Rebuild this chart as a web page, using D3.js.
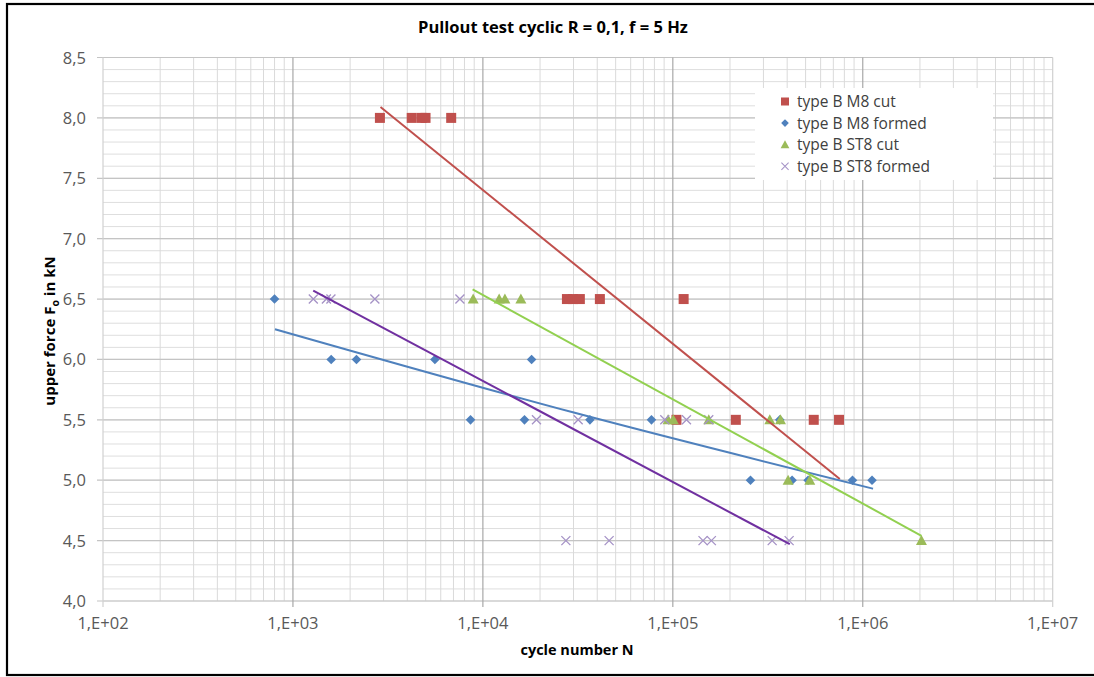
<!DOCTYPE html>
<html>
<head>
<meta charset="utf-8">
<script src="https://cdn.jsdelivr.net/npm/d3@7"></script>
<style>
  body { margin: 0; background: #fff; overflow: hidden; }
  svg  { display: block; font-family: "Open Sans", sans-serif; }
</style>
</head>
<body>
<div id="chart"></div>
<script>
// Data (cycle number N, upper force in kN)
var m8_cut_N      = [2870, 4220, 4760, 4990, 6810, 27700, 29800, 32400, 41300, 114000, 104500, 214600, 552000, 750000]
var m8_cut_F      = [8.0, 8.0, 8.0, 8.0, 8.0, 6.5, 6.5, 6.5, 6.5, 6.5, 5.5, 5.5, 5.5, 5.5]
var m8_formed_N   = [800, 1590, 2160, 5590, 18050, 8610, 16560, 36600, 77200, 365700, 256400, 424600, 515500, 883000, 1119000]
var m8_formed_F   = [6.5, 6.0, 6.0, 6.0, 6.0, 5.5, 5.5, 5.5, 5.5, 5.5, 5.0, 5.0, 5.0, 5.0, 5.0]
var st8_cut_N     = [8890, 12180, 13060, 15850, 94400, 100600, 154600, 324000, 368800, 404600, 526000, 2037000]
var st8_cut_F     = [6.5, 6.5, 6.5, 6.5, 5.5, 5.5, 5.5, 5.5, 5.5, 5.0, 5.0, 4.5]
var st8_formed_N  = [1280, 1500, 1585, 2700, 7570, 19150, 31750, 90700, 118000, 154600, 27350, 46200, 144200, 159600, 333500, 409600]
var st8_formed_F  = [6.5, 6.5, 6.5, 6.5, 6.5, 5.5, 5.5, 5.5, 5.5, 5.5, 4.5, 4.5, 4.5, 4.5, 4.5, 4.5]

// Trendlines, points
var trend_m8_cut_N     = [2890, 757000]
var trend_m8_cut_F     = [8.09, 5.01]
var trend_m8_formed_N  = [804, 30100, 1133000]
var trend_m8_formed_F  = [6.25, 5.56, 4.93]
var trend_st8_cut_N    = [8830, 2037000]
var trend_st8_cut_F    = [6.58, 4.54]
var trend_st8_formed_N = [1279, 413000]
var trend_st8_formed_F = [6.57, 4.47]

var series_names = ['type B M8 cut', 'type B M8 formed', 'type B ST8 cut', 'type B ST8 formed']
var x_ticks = [1e2, 1e3, 1e4, 1e5, 1e6, 1e7]
var y_ticks = [4.0, 4.5, 5.0, 5.5, 6.0, 6.5, 7.0, 7.5, 8.0, 8.5]

// Size
var width  = 1094
var height = 677

var svg = d3.select('#chart').append('svg')
    .attr('width',  width)
    .attr('height', height)

// Frame (right side runs off the picture)
svg.append('rect')
    .attr('x', 7).attr('y', 4)
    .attr('width', 1100).attr('height', 671)
    .attr('fill', 'none')
    .attr('stroke', '#000')
    .attr('stroke-width', 2.2)

// Scales
var x = d3.scaleLog().domain([1e2, 1e7]).range([103, 1052.7])
var y = d3.scaleLinear().domain([4, 8.5]).range([601, 57.5])

var grid = svg.append('g')

// Minor grid
var y_minor = d3.range(40, 86, 1).map(d => d / 10)
grid.selectAll('.hmin').data(y_minor).enter().append('line')
    .attr('x1', x(1e2)).attr('x2', x(1e7))
    .attr('y1', d => y(d)).attr('y2', d => y(d))
    .attr('stroke', '#dedede').attr('stroke-width', 1)

var x_minor = []
for (var e = 2; e < 7; e++) { for (var k = 2; k < 10; k++) { x_minor.push(k * Math.pow(10, e)) } }
grid.selectAll('.vmin').data(x_minor).enter().append('line')
    .attr('x1', d => x(d)).attr('x2', d => x(d))
    .attr('y1', y(4)).attr('y2', y(8.5))
    .attr('stroke', '#dadada').attr('stroke-width', 1)

// Major grid
grid.selectAll('.hmaj').data(y_ticks).enter().append('line')
    .attr('x1', x(1e2) - 6).attr('x2', x(1e7))
    .attr('y1', d => y(d)).attr('y2', d => y(d))
    .attr('stroke', '#c4c4c4').attr('stroke-width', 1.2)

grid.selectAll('.vmaj').data(x_ticks).enter().append('line')
    .attr('x1', d => x(d)).attr('x2', d => x(d))
    .attr('y1', y(4) + 6).attr('y2', y(8.5))
    .attr('stroke', d => (d == 1e2 || d == 1e7) ? '#d0d0d0' : '#a8a8a8').attr('stroke-width', 1.2)

// Tick labels
svg.selectAll('.ylab').data(y_ticks).enter().append('text')
    .attr('x', 86).attr('y', d => y(d) + 6)
    .attr('text-anchor', 'end')
    .attr('font-size', 16.5).attr('fill', '#595959')
    .text(d => d3.format('.1f')(d).replace('.', ','))

svg.selectAll('.xlab').data(x_ticks).enter().append('text')
    .attr('x', d => x(d)).attr('y', 629)
    .attr('text-anchor', 'middle')
    .attr('font-size', 16.5).attr('fill', '#595959')
    .text(d => '1,E+0' + Math.round(Math.log10(d)))

// Titles
svg.append('text')
    .attr('x', 553).attr('y', 33)
    .attr('text-anchor', 'middle')
    .attr('font-size', 16.5).attr('font-weight', 'bold')
    .text('Pullout test cyclic R = 0,1, f = 5 Hz')

svg.append('text')
    .attr('x', 577).attr('y', 655)
    .attr('text-anchor', 'middle')
    .attr('font-size', 14.5).attr('font-weight', 'bold')
    .text('cycle number N')

var ytitle = svg.append('text')
    .attr('transform', 'translate(55,331) rotate(-90)')
    .attr('text-anchor', 'middle')
    .attr('font-size', 15).attr('font-weight', 'bold')
ytitle.append('tspan').text('upper force F')
ytitle.append('tspan').attr('font-size', 10.5).attr('dy', 4).text('o')
ytitle.append('tspan').attr('dy', -4).text(' in kN')

// Markers
var colors = ['#c0504d', '#4f81bd', '#9bbb59', '#a592c6']
var symbols = [
    function(g) { g.append('rect').attr('x', -5).attr('y', -5).attr('width', 10).attr('height', 10).attr('fill', colors[0]) },
    function(g) { g.append('path').attr('d', 'M0,-4.8L4.8,0L0,4.8L-4.8,0Z').attr('fill', colors[1]) },
    function(g) { g.append('path').attr('d', 'M0,-5.5L5.5,4.5L-5.5,4.5Z').attr('fill', colors[2]) },
    function(g) { g.append('path').attr('d', 'M-4.5,-4.5L4.5,4.5M-4.5,4.5L4.5,-4.5').attr('stroke', colors[3]).attr('stroke-width', 1.3).attr('fill', 'none') }
]

var series = [
    [m8_cut_N, m8_cut_F],
    [m8_formed_N, m8_formed_F],
    [st8_cut_N, st8_cut_F],
    [st8_formed_N, st8_formed_F]
]

series.forEach(function(s, i) {
    var pts = s[0].map((n, j) => ({ n: n, f: s[1][j] }))
    svg.append('g').selectAll('g').data(pts).enter().append('g')
        .attr('transform', d => 'translate(' + x(d.n) + ',' + y(d.f) + ')')
        .each(function() { symbols[i](d3.select(this)) })
})

// Trendlines
var trends = [
    [trend_m8_cut_N, trend_m8_cut_F, '#c0504d'],
    [trend_m8_formed_N, trend_m8_formed_F, '#4f81bd'],
    [trend_st8_cut_N, trend_st8_cut_F, '#92d050'],
    [trend_st8_formed_N, trend_st8_formed_F, '#7030a0']
]
var line = d3.line().x(d => x(d[0])).y(d => y(d[1])).curve(d3.curveNatural)
trends.forEach(function(t) {
    svg.append('path')
        .datum(t[0].map((n, j) => [n, t[1][j]]))
        .attr('d', line)
        .attr('fill', 'none')
        .attr('stroke', t[2])
        .attr('stroke-width', 2)
})

// Legend
var legend = svg.append('g')
legend.append('rect')
    .attr('x', 755).attr('y', 88)
    .attr('width', 238).attr('height', 92)
    .attr('fill', '#fff')
series_names.forEach(function(name, i) {
    var row = legend.append('g').attr('transform', 'translate(0,' + (101.5 + i * 21.6) + ')')
    var m = row.append('g').attr('transform', 'translate(785,0) scale(0.8)')
    symbols[i](m)
    row.append('text')
        .attr('x', 797).attr('y', 5.5)
        .attr('font-size', 15.5).attr('fill', '#404040')
        .text(name)
})
</script>
</body>
</html>
